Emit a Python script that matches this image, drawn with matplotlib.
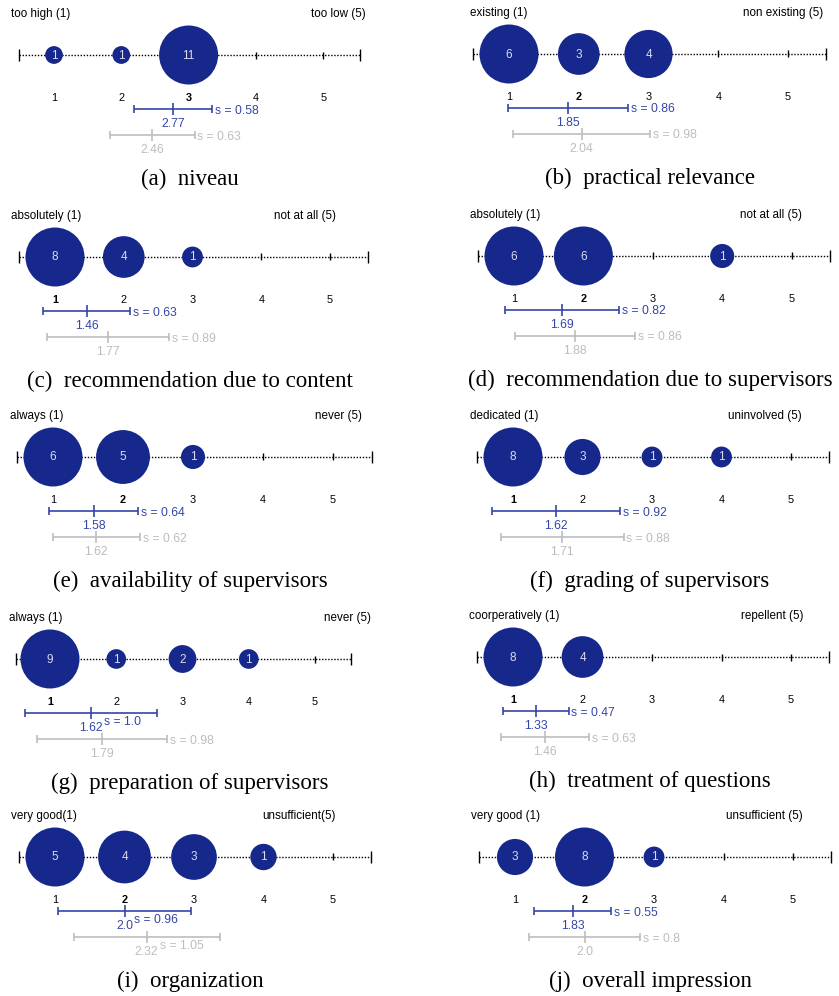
import numpy as np
import matplotlib
matplotlib.use('Agg')
import matplotlib.pyplot as plt

# survey answers: counts per grade 1..5 for each question
captions = ['(a)  niveau', '(b)  practical relevance', '(c)  recommendation due to content',
            '(d)  recommendation due to supervisors', '(e)  availability of supervisors',
            '(f)  grading of supervisors', '(g)  preparation of supervisors',
            '(h)  treatment of questions', '(i)  organization', '(j)  overall impression']
left_labels = ['too high (1)', 'existing (1)', 'absolutely (1)', 'absolutely (1)', 'always (1)',
               'dedicated (1)', 'always (1)', 'coorperatively (1)', 'very good(1)', 'very good (1)']
right_labels = ['too low (5)', 'non existing (5)', 'not at all (5)', 'not at all (5)', 'never (5)',
                'uninvolved (5)', 'never (5)', 'repellent (5)', 'unsufficient(5)', 'unsufficient (5)']
counts = [[1, 1, 11, 0, 0], [6, 3, 4, 0, 0], [8, 4, 1, 0, 0], [6, 6, 0, 1, 0], [6, 5, 1, 0, 0],
          [8, 3, 1, 1, 0], [9, 1, 2, 1, 0], [8, 4, 0, 0, 0], [5, 4, 3, 1, 0], [3, 8, 1, 0, 0]]
medians = [3, 2, 1, 2, 2, 1, 1, 1, 2, 2]
means = [2.77, 1.85, 1.46, 1.69, 1.58, 1.62, 1.62, 1.33, 2.0, 1.83]
sds = [0.58, 0.86, 0.63, 0.82, 0.64, 0.92, 1.0, 0.47, 0.96, 0.55]
prev_means = [2.46, 2.04, 1.77, 1.88, 1.62, 1.71, 1.79, 1.46, 2.32, 2.0]
prev_sds = [0.63, 0.98, 0.89, 0.86, 0.62, 0.88, 0.98, 0.63, 1.05, 0.8]
grades = [1, 2, 3, 4, 5]

# layout in pixels: x of grade 1, px per grade, y of axis line, left label x, right label end
x_one = [54, 509, 55, 514, 53, 513, 50, 513, 55, 515]
step = [67.3, 69.75, 68.75, 69.4, 70, 69.5, 66.25, 69.5, 69.5, 69.5]
y_axis = [55, 54, 257, 256, 457, 457, 659, 657, 857, 857]
lab_left = [11, 470, 11, 470, 10, 470, 9, 469, 11, 471]
lab_right = [366, 823, 336, 802, 362, 802, 371, 803, 336, 803]
# s label placed right after the mean label instead of bar end
s_after = [(False, False)] * 6 + [(True, False), (False, False), (True, True), (False, False)]

W, H = 839, 996
navy = '#16288b'
blue = '#3446a8'
grey = '#bdbdbd'
plt.rcParams['font.family'] = 'Liberation Sans'

fig = plt.figure(figsize=(W / 100, H / 100), dpi=100)

for i in range(10):
    colL, colR = (0, 420) if i % 2 == 0 else (420, 839)
    top, bot = y_axis[i] - 50, y_axis[i] + 135
    ax = fig.add_axes([colL / W, 1 - bot / H, (colR - colL) / W, (bot - top) / H])
    px = lambda p: 1 + (p - x_one[i]) / step[i]
    ax.set_xlim(px(colL), px(colR))
    ax.set_ylim(135, -50)
    ax.axis('off')

    # dotted scale
    ax.plot([0.48, 5.55], [0, 0], color='black', lw=1.0, ls=(0, (1, 1.2)), zorder=1)
    ax.vlines([0.48, 5.55], -6, 6, color='black', lw=1.0, zorder=1)
    ax.vlines(grades, -3.5, 3.5, color='black', lw=1.0, zorder=1)

    # bubbles, area ~ count, biggest has radius 29.5 px
    c = np.array(counts[i], dtype=float)
    g = np.array(grades)[c > 0]
    c = c[c > 0]
    r = 29.5 * np.sqrt(c / c.max())
    ax.scatter(g, np.zeros_like(g), s=(2 * r * 0.72) ** 2, color=navy, linewidths=0, zorder=3)
    for gx, n in zip(g, c):
        ax.text(gx, 0.5, str(int(n)), color='#dcdcea', fontsize=8.5, ha='center', va='center', zorder=4)

    # grade labels, median in bold
    for gr in grades:
        ax.text(gr, 43, str(gr), fontsize=7.8, ha='center', va='center',
                fontweight='bold' if gr == medians[i] else 'normal')

    ax.text(px(lab_left[i]), -41, left_labels[i], fontsize=8.4, ha='left', va='center')
    ax.text(px(lab_right[i]), -41, right_labels[i], fontsize=8.4, ha='right', va='center')

    # mean +- sd bars: current (blue) and previous (grey)
    for (m, s, col, yb, after) in [(means[i], sds[i], blue, 54, s_after[i][0]),
                                   (prev_means[i], prev_sds[i], grey, 80, s_after[i][1])]:
        ax.hlines(yb, m - s, m + s, color=col, lw=1.2)
        ax.vlines([m - s, m + s], yb - 4, yb + 4, color=col, lw=1.2)
        ax.vlines(m, yb - 6, yb + 6, color=col, lw=1.2)
        mt = ax.text(m, yb + 15, str(m), color=col, fontsize=8.7, ha='center', va='center')
        if after:
            ax.annotate('s = ' + str(s), xy=(1, 0.5), xycoords=mt, xytext=(1, 4),
                        textcoords='offset points', color=col, fontsize=8.7, ha='left', va='center')
        else:
            ax.annotate('s = ' + str(s), xy=(m + s, yb + 1.5), xytext=(2, 0),
                        textcoords='offset points', color=col, fontsize=8.7, ha='left', va='center')

    cx = 190 if i % 2 == 0 else 650
    ax.text(px(cx), 124, captions[i], fontsize=16.5, family='Liberation Serif', ha='center', va='center')

fig.savefig('out.png', dpi=100)
